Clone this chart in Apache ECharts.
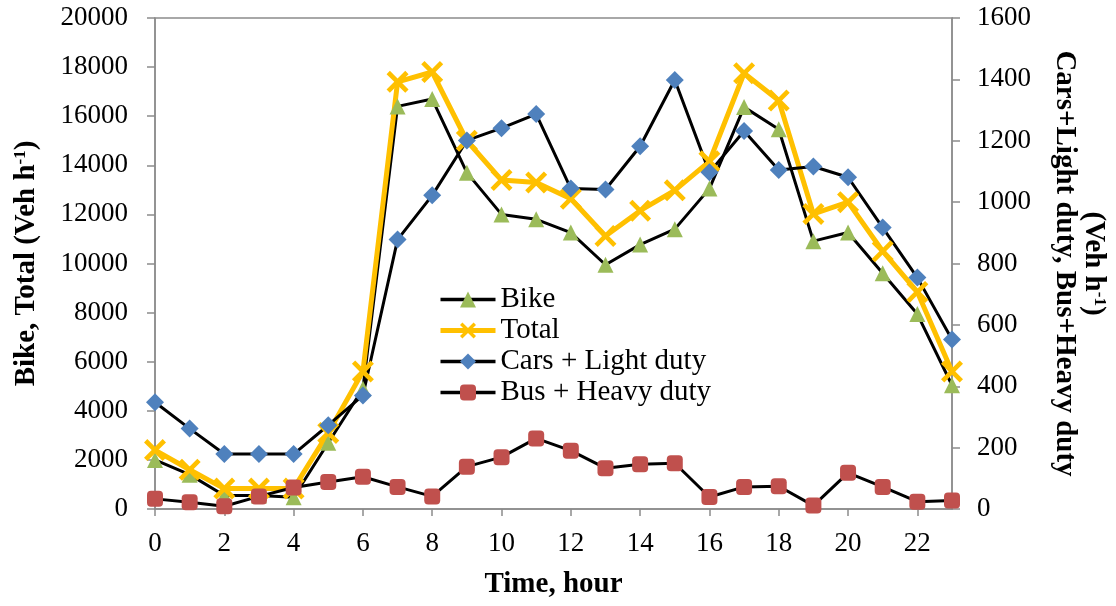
<!DOCTYPE html>
<html>
<head>
<meta charset="utf-8">
<script src="https://cdn.jsdelivr.net/npm/echarts@6/dist/echarts.min.js"></script>
<style>
  html, body { margin: 0; padding: 0; background: #fff; }
</style>
</head>
<body>
<div id="chart" style="width: 1116px; height: 606px"></div>
<script>
// hours of the day
var hours = [];
for (var h = 0; h < 24; h++) hours.push(String(h));

// left axis (Veh h-1)
var bike = [2000, 1400, 550, 550, 480, 2700, 4900, 16400, 16700, 13700, 12000, 11800,
            11260, 9950, 10770, 11400, 13050, 16370, 15470, 10910, 11260, 9600, 7940, 5040];
var total = [2400, 1600, 830, 830, 830, 3100, 5600, 17400, 17800, 15000, 13400, 13300,
             12640, 11120, 12150, 12980, 14160, 17750, 16640, 12020, 12500, 10500, 8840, 5600];
// right axis (Veh h-1)
var cars = [348, 262, 179, 179, 179, 273, 370, 878, 1022, 1201, 1241, 1287,
            1044, 1041, 1182, 1398, 1097, 1232, 1105, 1116, 1081, 917, 754, 552];
var bus = [33, 22, 9, 41, 70, 88, 105, 72, 41, 138, 169, 230,
           190, 133, 146, 149, 39, 72, 74, 11, 118, 72, 24, 28];

var serif = '"Liberation Serif", "Times New Roman", serif';
var axisGrey = '#8c8c8c';
// thick X marker for Total
var xSymbol = 'path://M0,3 L3,0 L10,7 L17,0 L20,3 L13,10 L20,17 L17,20 L10,13 L3,20 L0,17 L7,10 Z';

var supStyle = { sup: { fontFamily: serif, fontSize: 17, fontWeight: 'bold', verticalAlign: 'top' } };

function plainNum(v) { return String(v); } // no thousands separator

var myChart = echarts.init(document.getElementById('chart'));

var option = {
  animation: false,
  textStyle: { fontFamily: serif, color: '#000' },
  grid: {
    left: 155, right: 164, top: 18, bottom: 97,
    outerBoundsMode: 'none', containLabel: false,
    show: true, borderColor: axisGrey, borderWidth: 1.5
  },
  legend: {
    orient: 'vertical',
    left: 433, top: 280,
    itemWidth: 55, itemHeight: 20, itemGap: 2,
    textStyle: { fontFamily: serif, fontSize: 29, color: '#000' },
    data: [
      { name: 'Bike', lineStyle: { width: 3.5 } },
      { name: 'Total', lineStyle: { width: 5 } },
      { name: 'Cars + Light duty', lineStyle: { width: 3.5 } },
      { name: 'Bus + Heavy duty', lineStyle: { width: 3.5 } }
    ]
  },
  xAxis: {
    type: 'category',
    data: hours,
    boundaryGap: false,
    name: 'Time, hour',
    nameLocation: 'middle',
    nameGap: 61,
    nameTextStyle: { fontFamily: serif, fontSize: 29, fontWeight: 'bold', color: '#000' },
    axisLine: { lineStyle: { color: axisGrey, width: 1.5 } },
    axisTick: { interval: 1, length: 7, lineStyle: { color: axisGrey, width: 1.5 } },
    axisLabel: { interval: 1, fontFamily: serif, fontSize: 27, color: '#000', margin: 21 },
    splitLine: { show: false }
  },
  yAxis: [
    {
      type: 'value',
      min: 0, max: 20000, interval: 2000,
      name: 'Bike, Total (Veh h{sup|-1})',
      nameLocation: 'middle',
      nameGap: 114,
      nameTextStyle: { fontFamily: serif, fontSize: 29, fontWeight: 'bold', color: '#000', rich: supStyle },
      axisLine: { show: true, lineStyle: { color: axisGrey, width: 1.5 } },
      axisTick: { show: true, length: 8, lineStyle: { color: axisGrey, width: 1.5 } },
      axisLabel: { fontFamily: serif, fontSize: 27, color: '#000', margin: 27, formatter: plainNum },
      splitLine: { show: false }
    },
    {
      type: 'value',
      min: 0, max: 1600, interval: 200,
      name: '(Veh h{sup|-1})\nCars+Light duty, Bus+Heavy duty',
      nameLocation: 'middle',
      nameRotate: -90,
      nameGap: 98,
      nameTextStyle: { fontFamily: serif, fontSize: 29, fontWeight: 'bold', color: '#000', lineHeight: 29, rich: supStyle },
      axisLine: { show: true, lineStyle: { color: axisGrey, width: 1.5 } },
      axisTick: { show: true, length: 8, lineStyle: { color: axisGrey, width: 1.5 } },
      axisLabel: { fontFamily: serif, fontSize: 27, color: '#000', margin: 25, formatter: plainNum },
      splitLine: { show: false }
    }
  ],
  series: [
    {
      name: 'Bike', type: 'line', yAxisIndex: 0, data: bike,
      symbol: 'triangle', symbolSize: 16, showAllSymbol: true,
      lineStyle: { color: '#000', width: 3 },
      itemStyle: { color: '#9BBB59' }
    },
    {
      name: 'Total', type: 'line', yAxisIndex: 0, data: total,
      symbol: xSymbol, symbolSize: 22, showAllSymbol: true,
      lineStyle: { color: '#FFC000', width: 5 },
      itemStyle: { color: '#FFC000' }
    },
    {
      name: 'Cars + Light duty', type: 'line', yAxisIndex: 1, data: cars,
      symbol: 'diamond', symbolSize: 18, showAllSymbol: true,
      lineStyle: { color: '#000', width: 3 },
      itemStyle: { color: '#4F81BD' }
    },
    {
      name: 'Bus + Heavy duty', type: 'line', yAxisIndex: 1, data: bus,
      symbol: 'roundRect', symbolSize: 16, showAllSymbol: true,
      lineStyle: { color: '#000', width: 3 },
      itemStyle: { color: '#C0504D' }
    }
  ]
};

option && myChart.setOption(option);
</script>
</body>
</html>
